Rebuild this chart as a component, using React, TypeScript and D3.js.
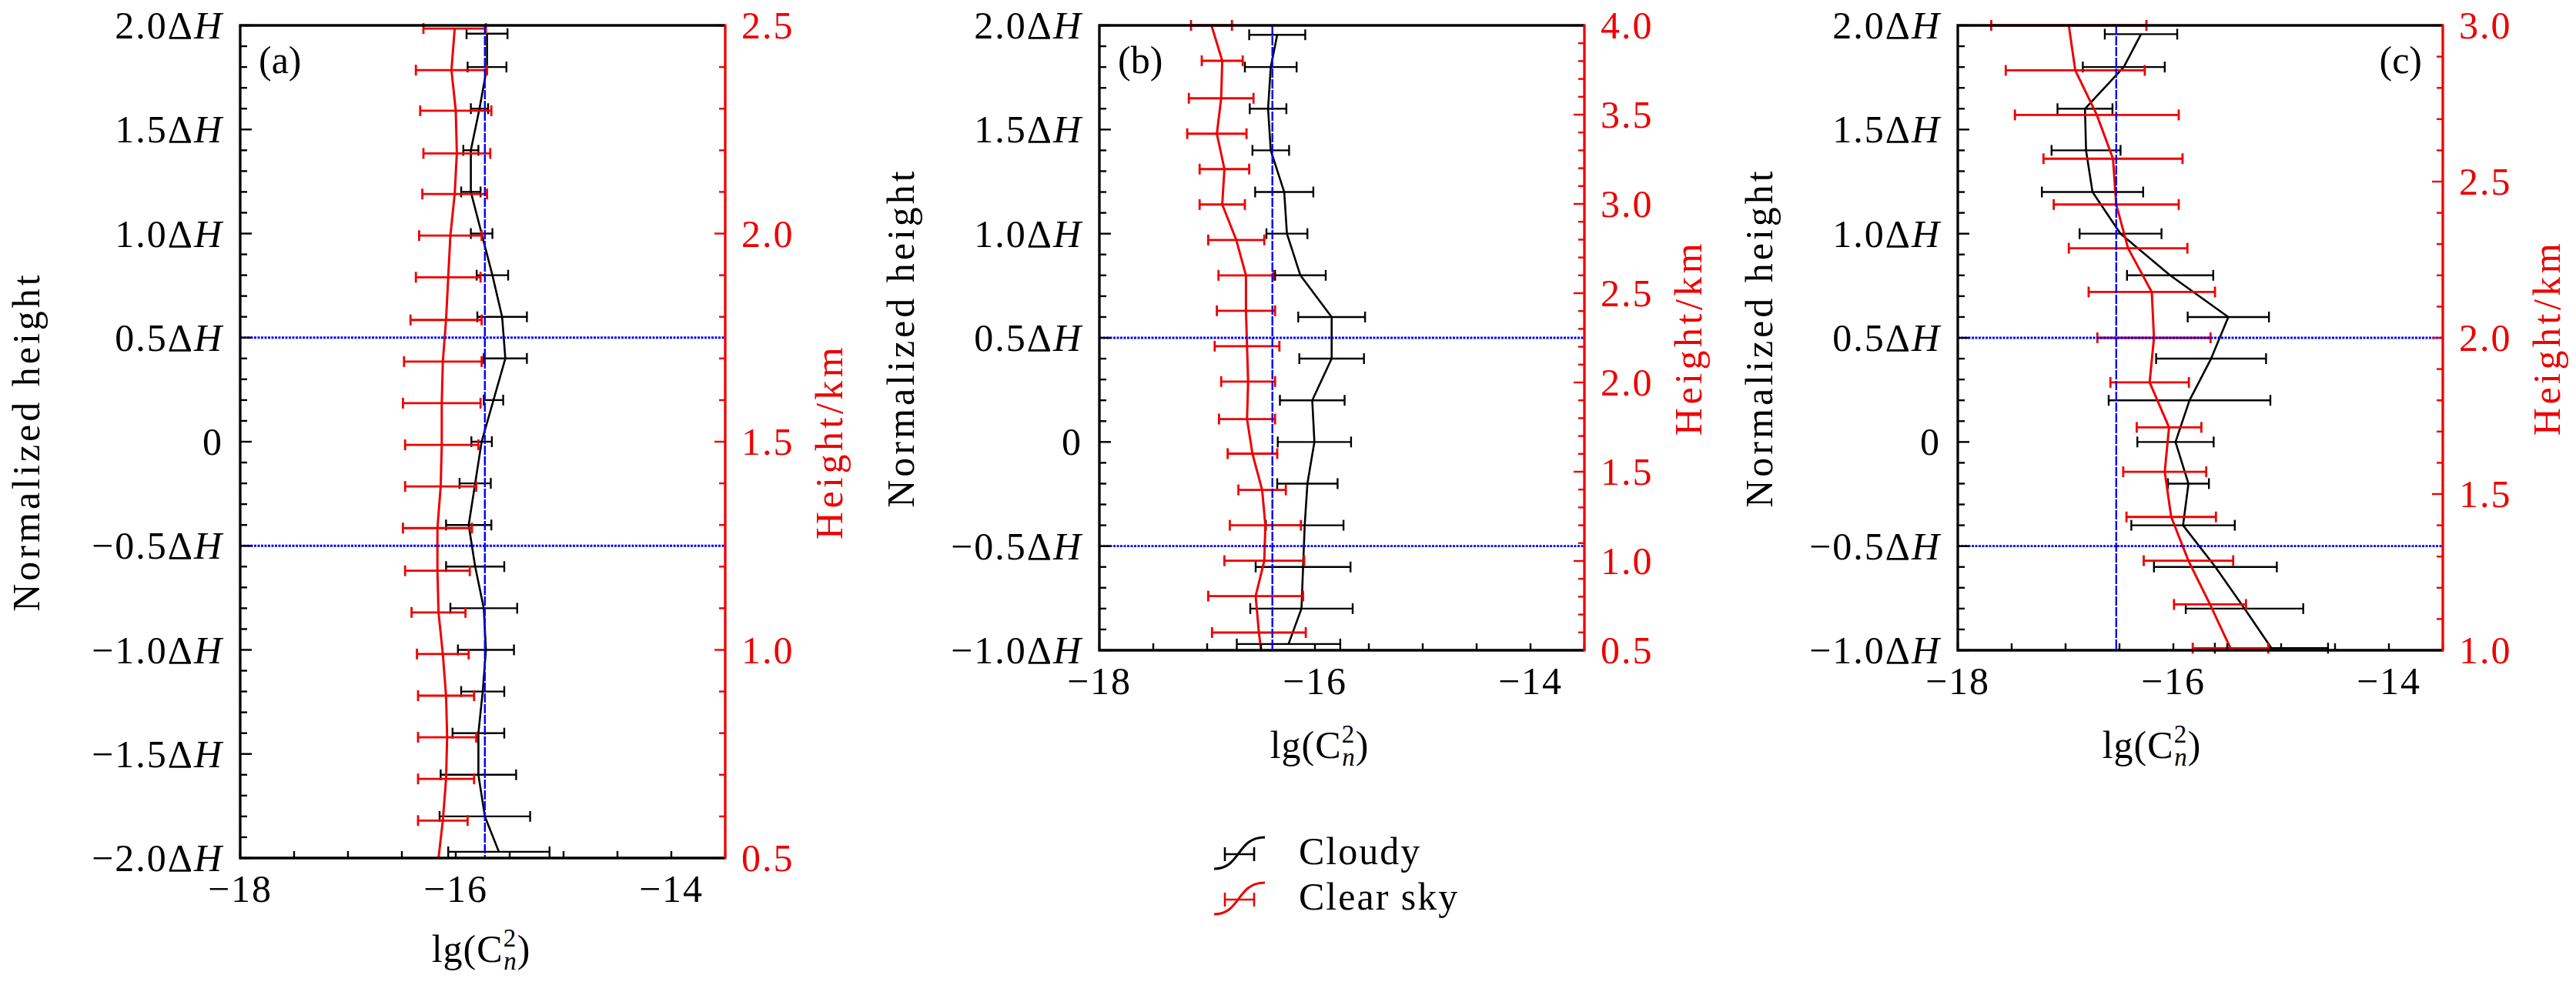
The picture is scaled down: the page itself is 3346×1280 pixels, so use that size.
import React from 'react';
import * as d3 from 'd3';

// lg(Cn2) profiles. Heights are in units of ΔH.
const cloudyHeightA = [1.96, 1.8, 1.6, 1.4, 1.2, 1.0, 0.8, 0.6, 0.4, 0.2, 0, -0.2, -0.4, -0.6, -0.8, -1.0, -1.2, -1.4, -1.6, -1.8, -1.97];
const cloudyValueA = [-15.71, -15.71, -15.78, -15.86, -15.86, -15.76, -15.66, -15.57, -15.54, -15.65, -15.76, -15.82, -15.88, -15.82, -15.74, -15.72, -15.75, -15.79, -15.79, -15.73, -15.6];
const cloudyErrA = [0.19, 0.18, 0.08, 0.07, 0.09, 0.1, 0.146, 0.23, 0.2, 0.09, 0.095, 0.145, 0.21, 0.27, 0.31, 0.26, 0.2, 0.24, 0.35, 0.42, 0.47];
const clearHeightA = [1.985, 1.785, 1.59, 1.385, 1.19, 0.99, 0.79, 0.585, 0.385, 0.185, -0.015, -0.215, -0.415, -0.62, -0.82, -1.02, -1.22, -1.42, -1.62, -1.82, -2.0];
const clearValueA = [-16.01, -16.04, -16.0, -15.99, -16.01, -16.05, -16.07, -16.09, -16.12, -16.13, -16.13, -16.14, -16.17, -16.17, -16.16, -16.12, -16.09, -16.08, -16.09, -16.12, -16.16];
const clearErrA = [0.29, 0.33, 0.33, 0.31, 0.3, 0.29, 0.3, 0.33, 0.36, 0.36, 0.34, 0.33, 0.32, 0.3, 0.25, 0.24, 0.26, 0.27, 0.26, 0.23, 0];

const cloudyHeightB = [1.955, 1.8, 1.6, 1.4, 1.2, 1.0, 0.8, 0.6, 0.4, 0.2, 0, -0.2, -0.4, -0.6, -0.8, -0.97];
const cloudyValueB = [-16.35, -16.41, -16.435, -16.41, -16.285, -16.26, -16.135, -15.845, -15.845, -16.025, -16.005, -16.07, -16.095, -16.11, -16.125, -16.245];
const cloudyErrB = [0.26, 0.24, 0.17, 0.17, 0.27, 0.19, 0.235, 0.31, 0.3, 0.3, 0.34, 0.28, 0.36, 0.44, 0.475, 0.48];
const clearHeightB = [2.0, 1.83, 1.65, 1.48, 1.31, 1.14, 0.97, 0.8, 0.63, 0.46, 0.29, 0.11, -0.056, -0.23, -0.4, -0.57, -0.74, -0.915, -1.0];
const clearValueB = [-16.96, -16.86, -16.87, -16.91, -16.84, -16.86, -16.73, -16.64, -16.64, -16.63, -16.62, -16.63, -16.58, -16.49, -16.46, -16.47, -16.55, -16.52, -16.5];
const clearErrB = [0.19, 0.19, 0.3, 0.275, 0.23, 0.21, 0.26, 0.255, 0.27, 0.3, 0.25, 0.26, 0.23, 0.22, 0.33, 0.37, 0.44, 0.435, 0];

const cloudyHeightC = [1.958, 1.8, 1.6, 1.4, 1.2, 1.0, 0.8, 0.6, 0.4, 0.2, 0, -0.2, -0.4, -0.6, -0.8, -0.99];
const cloudyValueC = [-16.3, -16.46, -16.82, -16.81, -16.75, -16.49, -16.03, -15.49, -15.65, -15.85, -15.98, -15.86, -15.91, -15.61, -15.34, -15.09];
const cloudyErrC = [0.336, 0.38, 0.255, 0.32, 0.47, 0.38, 0.4, 0.377, 0.51, 0.75, 0.354, 0.19, 0.48, 0.57, 0.545, 0.525];
const clearHeightC = [2.0, 1.784, 1.57, 1.36, 1.14, 0.93, 0.72, 0.5, 0.286, 0.07, -0.143, -0.36, -0.57, -0.78, -0.99];
const clearValueC = [-16.97, -16.91, -16.71, -16.56, -16.53, -16.42, -16.2, -16.18, -16.22, -16.04, -16.08, -16.02, -15.86, -15.66, -15.47];
const clearErrC = [0.72, 0.645, 0.76, 0.645, 0.58, 0.55, 0.586, 0.525, 0.364, 0.3, 0.385, 0.415, 0.415, 0.334, 0.35];

// vertical reference lines (mean lg Cn2 of each case)
const refValues = [-15.73, -16.395, -16.53];
const panelLetters = ['(a)', '(b)', '(c)'];
const heightDomains: [number, number][] = [[-2, 2], [-1, 2], [-1, 2]];
const kmDomains: [number, number][] = [[0.5, 2.5], [0.5, 4.0], [1.0, 3.0]];
const xTickLabels = [-18, -16, -14];
const legendLabels = ['Cloudy', 'Clear sky'];

const FONT = "'Liberation Serif', 'DejaVu Serif', serif";
const RED = '#ee0000';
const BLUE = '#0000ff';
const TOP = 33;
const PW = 630;

type Series = { h: number[]; v: number[]; e: number[] };

interface PanelCfg {
  idx: number;
  left: number;
  bottom: number;
  leftLabelX: number;
  xLabelX: number;
  xLabelY: number;
  cloudy: Series;
  clear: Series;
}

function range(a: number, b: number, step: number) {
  const out: number[] = [];
  const n = Math.round((b - a) / step);
  for (let i = 0; i <= n; i++) out.push(Math.round((a + i * step) * 100) / 100);
  return out;
}

function isMajor(v: number) {
  return Math.abs(v * 2 - Math.round(v * 2)) < 1e-6;
}

function hLabel(h: number) {
  if (h === 0) return <>0</>;
  return (
    <>
      {(h < 0 ? '\u2212' : '') + Math.abs(h).toFixed(1)}Δ<tspan fontStyle="italic">H</tspan>
    </>
  );
}

function Profile({ s, color, x, y, lw, bw }: { s: Series; color: string; x: d3.ScaleLinear<number, number>; y: d3.ScaleLinear<number, number>; lw: number; bw: number }) {
  const pts = s.h.map((h, i) => [s.v[i], h] as [number, number]);
  const line = d3.line<[number, number]>().x((d) => x(d[0])).y((d) => y(d[1]));
  return (
    <g stroke={color} fill="none">
      {pts.map(([v, h], i) => {
        const e = s.e[i];
        if (!e) return null;
        const yy = y(h);
        const xa = x(v - e);
        const xb = x(v + e);
        return (
          <g key={i} strokeWidth={bw}>
            <line x1={xa} x2={xb} y1={yy} y2={yy} />
            <line x1={xa} x2={xa} y1={yy - 7} y2={yy + 7} />
            <line x1={xb} x2={xb} y1={yy - 7} y2={yy + 7} />
          </g>
        );
      })}
      <path d={line(pts) || ''} strokeWidth={lw} strokeLinejoin="round" />
    </g>
  );
}

function Panel({ cfg }: { cfg: PanelCfg }) {
  const { idx, left, bottom } = cfg;
  const right = left + PW;
  const x = d3.scaleLinear().domain([-18, -13.5]).range([left, right]);
  const y = d3.scaleLinear().domain(heightDomains[idx]).range([bottom, TOP]);
  const yKm = d3.scaleLinear().domain(kmDomains[idx]).range([bottom, TOP]);
  const hTicks = range(heightDomains[idx][0], heightDomains[idx][1], 0.1);
  const kmTicks = range(kmDomains[idx][0], kmDomains[idx][1], 0.1);
  const xTicks = range(-18, -13.5, 0.5);
  const midY = (TOP + bottom) / 2;

  return (
    <g>
      {/* data */}
      <Profile s={cfg.cloudy} color="#000" x={x} y={y} lw={2.6} bw={2.4} />
      <Profile s={cfg.clear} color={RED} x={x} y={y} lw={3} bw={2.8} />

      {/* reference lines */}
      <g stroke={BLUE} fill="none">
        <line x1={x(refValues[idx])} x2={x(refValues[idx])} y1={TOP} y2={bottom} strokeWidth={2.4} strokeDasharray="12 2" />
        {[0.5, -0.5].map((h) => (
          <line key={h} x1={left} x2={right} y1={y(h)} y2={y(h)} strokeWidth={2.8} strokeDasharray="3 1.5" />
        ))}
      </g>

      {/* ticks */}
      <g stroke="#000" strokeWidth={2.4}>
        {hTicks.map((h) => (
          <line key={h} x1={left} x2={left + (isMajor(h) ? 15 : 9)} y1={y(h)} y2={y(h)} />
        ))}
        {xTicks.map((v) => (
          <line key={v} x1={x(v)} x2={x(v)} y1={bottom} y2={bottom - 9} />
        ))}
      </g>
      <g stroke={RED} strokeWidth={2.4}>
        {kmTicks.map((k) => (
          <line key={k} x1={right} x2={right - (isMajor(k) ? 14 : 8)} y1={yKm(k)} y2={yKm(k)} />
        ))}
      </g>
      <path d={`M${right},${TOP}H${left}V${bottom}H${right}`} stroke="#000" strokeWidth={3.3} fill="none" />
      <line x1={right} x2={right} y1={TOP - 1.6} y2={bottom + 1.6} stroke={RED} strokeWidth={3.3} />

      {/* tick labels */}
      <g fontSize={50} letterSpacing={2} fill="#000">
        {hTicks.filter(isMajor).map((h) => (
          <text key={h} x={left - 22} y={y(h)} dy={17} textAnchor="end">
            {hLabel(h)}
          </text>
        ))}
        {xTickLabels.map((v) => (
          <text key={v} x={x(v)} y={bottom + 57} textAnchor="middle">
            {'\u2212' + Math.abs(v)}
          </text>
        ))}
      </g>
      <g fontSize={50} letterSpacing={2} fill={RED}>
        {kmTicks.filter(isMajor).map((k) => (
          <text key={k} x={right + 21} y={yKm(k)} dy={17}>
            {k.toFixed(1)}
          </text>
        ))}
      </g>

      {/* axis titles */}
      <text
        x={cfg.leftLabelX}
        y={midY}
        fontSize={50}
        letterSpacing={4}
        textAnchor="middle"
        transform={`rotate(-90 ${cfg.leftLabelX} ${midY})`}
      >
        Normalized height
      </text>
      <text
        x={right + 152}
        y={midY}
        fontSize={50}
        letterSpacing={4.5}
        textAnchor="middle"
        fill={RED}
        transform={`rotate(-90 ${right + 152} ${midY})`}
      >
        Height/km
      </text>
      <text x={cfg.xLabelX} y={cfg.xLabelY} fontSize={50} letterSpacing={1} textAnchor="middle">
        lg(C
        <tspan fontSize={33} dy={-20}>2</tspan>
        <tspan fontSize={33} fontStyle="italic" dx={-17} dy={30}>n</tspan>
        <tspan dy={-10}>)</tspan>
      </text>

      {/* panel letter */}
      {idx < 2 ? (
        <text x={left + 24} y={95} fontSize={50}>{panelLetters[idx]}</text>
      ) : (
        <text x={right - 27} y={95} fontSize={50} textAnchor="end">{panelLetters[idx]}</text>
      )}
    </g>
  );
}

function Legend() {
  const items = [
    { label: legendLabels[0], color: '#000', y: 1110 },
    { label: legendLabels[1], color: RED, y: 1169 },
  ];
  return (
    <g>
      {items.map((it) => (
        <g key={it.label}>
          <path
            d={`M1577,${it.y + 19} C1612,${it.y + 19} 1606,${it.y - 22} 1643,${it.y - 22}`}
            stroke={it.color}
            strokeWidth={3}
            fill="none"
          />
          <g stroke={it.color} strokeWidth={2.6}>
            <line x1={1591} x2={1629} y1={it.y} y2={it.y} />
            <line x1={1591} x2={1591} y1={it.y - 9} y2={it.y + 9} />
            <line x1={1629} x2={1629} y1={it.y - 9} y2={it.y + 9} />
          </g>
          <text x={1687} y={it.y + 13} fontSize={50} letterSpacing={2} fill="#000">
            {it.label}
          </text>
        </g>
      ))}
    </g>
  );
}

const panelCfgs: PanelCfg[] = [
  {
    idx: 0, left: 312, bottom: 1115, leftLabelX: 51, xLabelX: 625, xLabelY: 1250,
    cloudy: { h: cloudyHeightA, v: cloudyValueA, e: cloudyErrA },
    clear: { h: clearHeightA, v: clearValueA, e: clearErrA },
  },
  {
    idx: 1, left: 1428, bottom: 845, leftLabelX: 1187, xLabelX: 1714, xLabelY: 985,
    cloudy: { h: cloudyHeightB, v: cloudyValueB, e: cloudyErrB },
    clear: { h: clearHeightB, v: clearValueB, e: clearErrB },
  },
  {
    idx: 2, left: 2543, bottom: 845, leftLabelX: 2302, xLabelX: 2795, xLabelY: 985,
    cloudy: { h: cloudyHeightC, v: cloudyValueC, e: cloudyErrC },
    clear: { h: clearHeightC, v: clearValueC, e: clearErrC },
  },
];

export default function App() {
  return (
    <svg
      width={3346}
      height={1280}
      style={{ position: 'absolute', left: 0, top: 0, background: '#fff' }}
      fontFamily={FONT}
    >
      <rect width={3346} height={1280} fill="#fff" />
      {panelCfgs.map((cfg) => (
        <Panel key={cfg.idx} cfg={cfg} />
      ))}
      <Legend />
    </svg>
  );
}
